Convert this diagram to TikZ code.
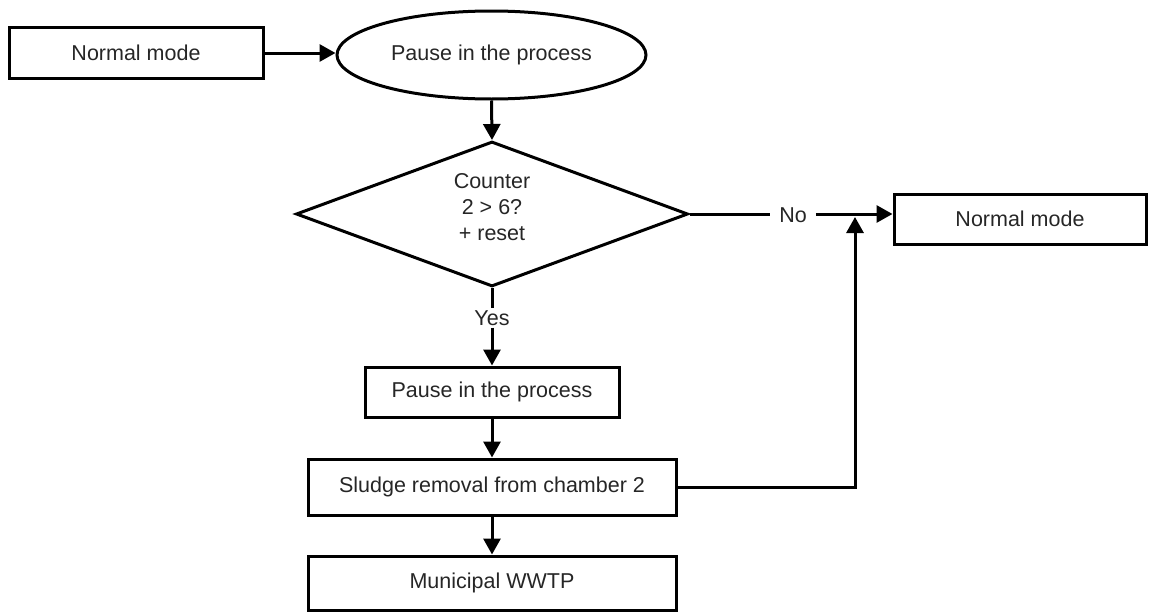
\documentclass[tikz,border=0pt]{standalone}
\usepackage{fontspec}
\setmainfont{Liberation Sans}
\usetikzlibrary{shapes.geometric,arrows.meta}
\begin{document}
\begin{tikzpicture}[x=1pt,y=-1pt,
  every node/.style={font=\fontsize{21.5}{26}\selectfont, text=black!85},
  box/.style={draw=black, line width=3pt, rectangle, inner sep=0pt},
  conn/.style={draw=black, line width=3pt},
  arr/.style={conn, -{Triangle[length=16pt,width=17pt]}},
  lbl/.style={fill=white, inner xsep=9pt, inner ysep=1pt}]
\useasboundingbox (0,0) rectangle (1149,613);
\node[box, minimum width=254pt, minimum height=51pt] (nm1) at (136,53) {Normal mode};
\node[draw=black, line width=3pt, ellipse, inner sep=0pt, minimum width=309pt, minimum height=88pt] (p1) at (491.5,55) {Pause in the process};
\node[draw=black, line width=3pt, diamond, aspect=2.7, inner sep=0pt, minimum width=392pt, minimum height=145pt, align=center] (d) at (492,214) {Counter\\2 > 6?\\+ reset\\[-12pt]};
\node[box, minimum width=252pt, minimum height=50pt] (nm2) at (1020,219) {Normal mode};
\node[lbl] (no) at (793,215) {No};
\node[lbl, inner xsep=2pt, inner ysep=2pt] (yes) at (492,318) {Yes};
\node[box, minimum width=254pt, minimum height=50pt] (p2) at (492,392) {Pause in the process};
\node[box, minimum width=368pt, minimum height=56pt] (s) at (492,487) {Sludge removal from chamber 2};
\node[box, minimum width=368pt, minimum height=54pt] (w) at (492,583) {Municipal WWTP};
\coordinate (j) at (855,217);
\draw[arr] (nm1.east) -- (nm1.east -| p1.west);
\draw[arr] (p1.south) -- (d.north);
\draw[conn] (d.east) -- (d.east -| no.west);
\draw[arr] (no.east |- d.east) -- (d.east -| nm2.west);
\draw[conn] (d.south) -- (yes.north);
\draw[arr] (yes.south) -- (p2.north);
\draw[arr] (p2.south) -- (s.north);
\draw[arr] (s.south) -- (w.north);
\draw[arr] (s.east) -| (j);
\end{tikzpicture}
\end{document}
